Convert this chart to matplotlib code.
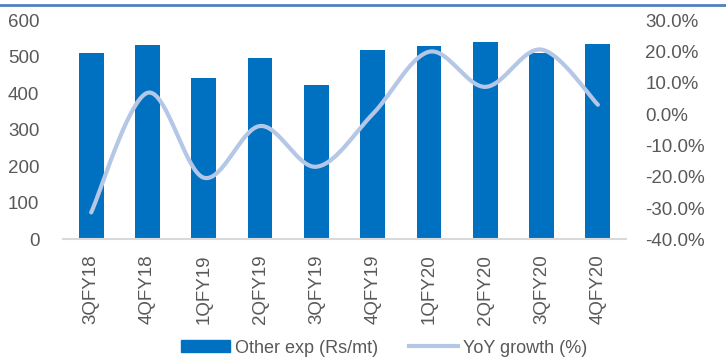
import numpy as np
import matplotlib
matplotlib.use("Agg")
from matplotlib import pyplot as plt
from matplotlib.lines import Line2D
from matplotlib.ticker import FuncFormatter

quarters = ['3QFY18', '4QFY18', '1QFY19', '2QFY19', '3QFY19',
            '4QFY19', '1QFY20', '2QFY20', '3QFY20', '4QFY20']
other_exp = [509, 531, 441, 497, 423, 518, 529, 541, 510, 535]
yoy_growth = [-31.4, 6.8, -20.3, -3.8, -16.8, 0.0, 19.9, 8.7, 20.6, 3.0]

plt.rcParams['font.family'] = ['Liberation Sans', 'DejaVu Sans']
grey = '#595959'
fs = 13.5


def smooth(xs, ys, n=40):
    # excel style smoothed line: bezier segments through the points
    xs = np.asarray(xs, float)
    ys = np.asarray(ys, float)
    px = np.concatenate([[xs[0]], xs, [xs[-1]]])
    py = np.concatenate([[ys[0]], ys, [ys[-1]]])
    outx, outy = [], []
    t = np.linspace(0, 1, n)
    for i in range(1, len(px) - 2):
        p0 = np.array([px[i], py[i]])
        p3 = np.array([px[i + 1], py[i + 1]])
        p1 = p0 + (p3 - np.array([px[i - 1], py[i - 1]])) / 6
        p2 = p3 - (np.array([px[i + 2], py[i + 2]]) - p0) / 6
        b = ((1 - t) ** 3)[:, None] * p0 + (3 * (1 - t) ** 2 * t)[:, None] * p1 \
            + (3 * (1 - t) * t ** 2)[:, None] * p2 + (t ** 3)[:, None] * p3
        outx.extend(b[:, 0])
        outy.extend(b[:, 1])
    return outx, outy


fig = plt.figure(figsize=(7.26, 3.6), dpi=100)
ax = fig.add_axes([0.0868, 0.335, 0.7755, 0.609])
x = np.arange(len(quarters))
ax.bar(x, other_exp, width=0.44, color='#0070c0', zorder=2)
ax.set_xlim(-0.5, len(quarters) - 0.5)
ax.set_ylim(0, 600)
ax.set_yticks(range(0, 601, 100))
ax.set_xticks(x)
ax.set_xticklabels(quarters, rotation=90)
for s in ['top', 'right', 'left']:
    ax.spines[s].set_visible(False)
ax.spines['bottom'].set_color('#d9d9d9')
ax.spines['bottom'].set_linewidth(1.5)
ax.tick_params(axis='both', length=0, labelsize=fs, colors=grey)
ax.tick_params(axis='y', pad=17)
ax.tick_params(axis='x', pad=11)

ax2 = ax.twinx()
sx, sy = smooth(x, yoy_growth)
ax2.plot(sx, sy, color='#b4c7e7', lw=3, solid_capstyle='round', zorder=3)
ax2.set_ylim(-40, 30)
ax2.set_yticks(range(-40, 31, 10))
ax2.yaxis.set_major_formatter(FuncFormatter(lambda v, p: f'{v:.1f}%'))
for s in ['top', 'right', 'left', 'bottom']:
    ax2.spines[s].set_visible(False)
ax2.tick_params(axis='y', length=0, labelsize=fs, colors=grey, pad=14)

# blue rule across the top
fig.add_artist(Line2D([0, 1], [0.986, 0.986], color='#4f81bd', lw=2))

handles = [plt.Rectangle((0, 0), 1, 1, color='#0070c0'),
           Line2D([0], [0], color='#b4c7e7', lw=3)]
fig.legend(handles, ['Other exp (Rs/mt)', 'YoY growth (%)'], ncol=2,
           loc='center', bbox_to_anchor=(0.529, 0.033), frameon=False,
           fontsize=13, labelcolor=grey, handlelength=2.7, handleheight=0.65,
           handletextpad=0.28, columnspacing=1.7, borderpad=0)

fig.savefig('out.png', dpi=100)
